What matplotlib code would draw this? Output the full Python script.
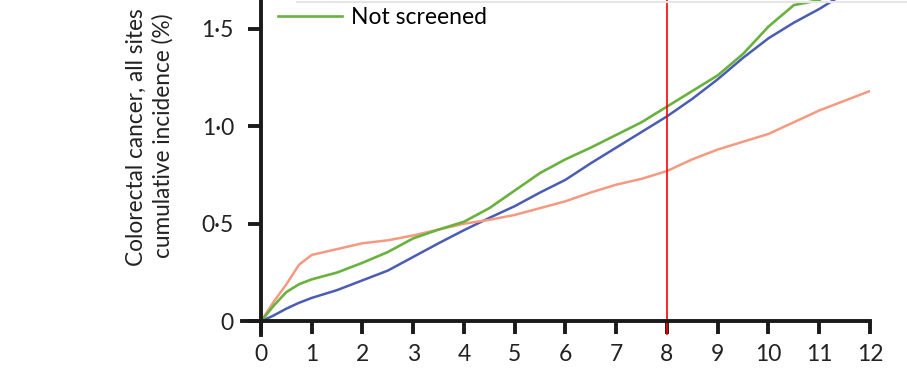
import numpy as np
import matplotlib
matplotlib.use('Agg')
import matplotlib.pyplot as plt
from matplotlib.lines import Line2D

plt.rcParams['font.family'] = ['Lato', 'DejaVu Sans']

# years since randomisation
years = [0, 0.25, 0.5, 0.75, 1, 1.5, 2, 2.5, 3, 3.5, 4, 4.5, 5, 5.5, 6, 6.5,
         7, 7.5, 8, 8.5, 9, 9.5, 10, 10.5, 11, 11.5, 12]

# cumulative incidence (%)
blue = [0, 0.03, 0.065, 0.095, 0.12, 0.16, 0.21, 0.26, 0.33, 0.40, 0.467, 0.53,
        0.59, 0.66, 0.725, 0.81, 0.89, 0.97, 1.05, 1.14, 1.24, 1.35, 1.45, 1.53,
        1.60, 1.68, 1.76]
green = [0, 0.08, 0.15, 0.19, 0.215, 0.25, 0.30, 0.355, 0.425, 0.47, 0.51, 0.58,
         0.67, 0.76, 0.83, 0.89, 0.955, 1.02, 1.10, 1.18, 1.26, 1.37, 1.51, 1.62,
         1.645, 1.74, 1.82]
salmon = [0, 0.10, 0.19, 0.29, 0.34, 0.37, 0.40, 0.415, 0.44, 0.47, 0.50, 0.52,
          0.545, 0.58, 0.615, 0.66, 0.70, 0.73, 0.77, 0.83, 0.88, 0.92, 0.96, 1.02,
          1.08, 1.13, 1.18]

xticks = list(range(13))
yticks = [0, 0.5, 1.0, 1.5]
ytick_labels = ['0', '0·5', '1·0', '1·5']

W, H = 907, 369
fig = plt.figure(figsize=(W/100, H/100), dpi=100)
ax = fig.add_axes([242/W, 34/H, 628/W, 335/H])

ax.plot(years, blue, color='#4a5cb3', lw=1.8)
ax.plot(years, salmon, color='#f59a80', lw=1.8)
ax.plot(years, green, color='#69b23e', lw=1.9, label='Not screened')
ax.axvline(8, color='#ff0000', lw=1.2)

ax.set_xlim(-0.374, 12)
ax.set_ylim(-0.07, 1.646)

ax.spines['top'].set_visible(False)
ax.spines['right'].set_visible(False)
ax.spines['left'].set_position(('data', 0))
ax.spines['bottom'].set_position(('data', 0))
for s in ['left', 'bottom']:
    ax.spines[s].set_linewidth(2.8)
    ax.spines[s].set_color('#1a1a1a')

ax.set_xticks(xticks)
ax.set_yticks(yticks)
ax.set_yticklabels(ytick_labels)
ax.tick_params(axis='both', direction='out', length=9.5, width=2.8,
               color='#1a1a1a', labelsize=16.5, labelcolor='#222222')
ax.tick_params(axis='x', pad=7)
ax.tick_params(axis='y', pad=10)

fig.text(136/W, 1-266/H, 'Colorectal cancer, all sites', rotation=90,
         ha='center', va='bottom', fontsize=16.3, color='#222222')
fig.text(163/W, 1-258/H, 'cumulative incidence (%)', rotation=90,
         ha='center', va='bottom', fontsize=16.3, color='#222222')

ax.legend(loc='center left', bbox_to_anchor=(278/W, 1-18/H),
          bbox_transform=fig.transFigure, frameon=False, borderpad=0,
          borderaxespad=0, handlelength=2.8, handletextpad=0.4,
          prop={'size': 16.5})

# edge of the legend panel above the crop
fig.add_artist(Line2D([297/W, 1], [1-1.5/H, 1-1.5/H], transform=fig.transFigure,
                      color='#e6e6e6', lw=1.5))

fig.savefig('out.png', dpi=100)
